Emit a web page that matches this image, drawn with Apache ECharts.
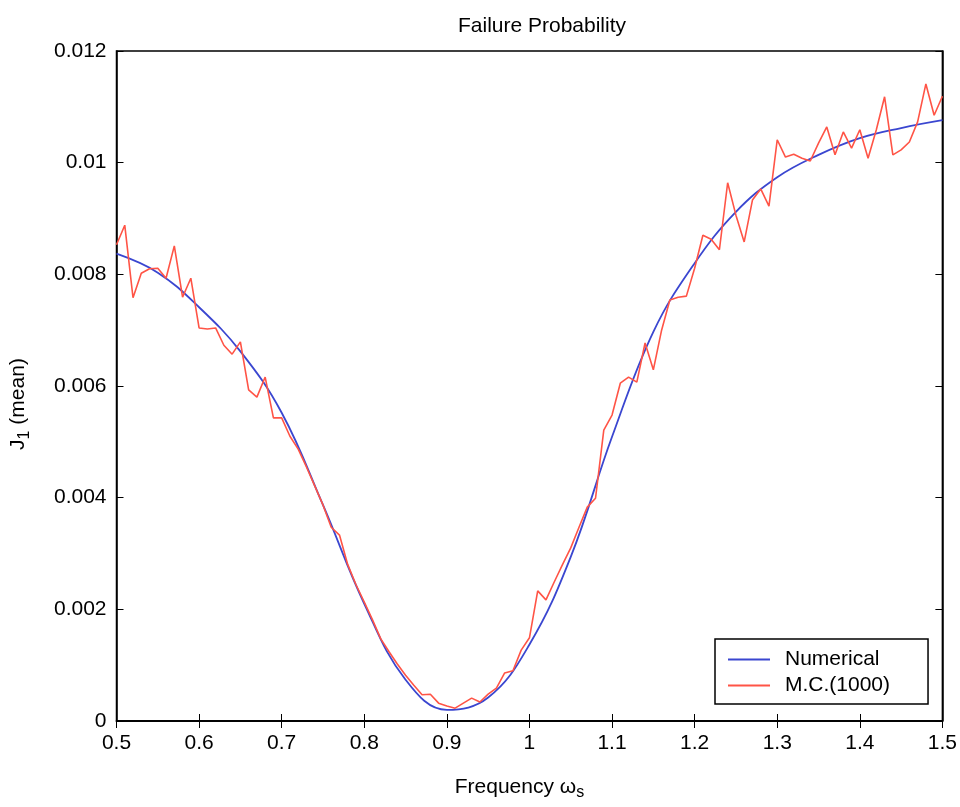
<!DOCTYPE html>
<html>
<head>
<meta charset="utf-8">
<title>Failure Probability</title>
<script src="https://cdn.jsdelivr.net/npm/echarts@6/dist/echarts.min.js"></script>
<style>
  html, body { margin: 0; padding: 0; background: #fff; }
  #chart { width: 960px; height: 807px; }
</style>
</head>
<body>
<div id="chart"></div>
<script>
// numerical solution, sampled every 0.05
const numX = [0.5, 0.55, 0.6, 0.65, 0.7, 0.75, 0.8, 0.85, 0.9, 0.95, 1.0,
  1.05, 1.1, 1.15, 1.2, 1.25, 1.3, 1.35, 1.4, 1.45, 1.5];
const numY = [0.00837, 0.00803, 0.00741, 0.00662, 0.00552, 0.00387, 0.0021, 0.00074, 0.0002, 0.00042, 0.00137,
  0.00294, 0.00509, 0.00697, 0.0082, 0.00912, 0.00974, 0.01014, 0.01044, 0.01062, 0.01076];

// Monte Carlo (1000 samples), one point per 0.01 from 0.5 to 1.5
const mcStart = 0.5;
const mcStep = 0.01;
const mcY = [
  0.00853, 0.00888, 0.00758, 0.00802, 0.0081, 0.00811, 0.00793, 0.00851, 0.00759, 0.00793,
  0.00704, 0.00702, 0.00704, 0.00673, 0.00657, 0.00679, 0.00593, 0.0058, 0.00616, 0.00543,
  0.00543, 0.0051, 0.00487, 0.00455, 0.00421, 0.00387, 0.00347, 0.00333, 0.0028, 0.00244,
  0.00213, 0.00181, 0.00147, 0.00124, 0.00102, 0.00082, 0.00064, 0.00047, 0.00048, 0.00032,
  0.00027, 0.00023, 0.00032, 0.00041, 0.00034, 0.00048, 0.00059, 0.00086, 0.0009, 0.00127,
  0.00149, 0.00233, 0.00217, 0.00249, 0.0028, 0.0031, 0.00347, 0.00383, 0.00399, 0.00521,
  0.00548, 0.00605, 0.00616, 0.00607, 0.00677, 0.00629, 0.007, 0.00754, 0.00759, 0.00761,
  0.00811, 0.0087, 0.00863, 0.00844, 0.00964, 0.00906, 0.00858, 0.00933, 0.00953, 0.00922,
  0.01041, 0.0101, 0.01015, 0.01008, 0.01003, 0.01035, 0.01064, 0.01014, 0.01055, 0.01026,
  0.01059, 0.01008, 0.01059, 0.01118, 0.01014, 0.01023, 0.01037, 0.01073, 0.01141, 0.01085,
  0.01119
];

const FONT = "'Liberation Sans', Arial, sans-serif";

const numData = numX.map((x, i) => [x, numY[i]]);
const mcData = mcY.map((y, i) => [+(mcStart + i * mcStep).toFixed(2), y]);

const chart = echarts.init(document.getElementById("chart"));

const tickLabel = { color: "#000", fontFamily: FONT, fontSize: 21 };
const boxLine = { show: true, lineStyle: { color: "#000", width: 1.5 } };
const inTick = { show: true, inside: true, length: 7, lineStyle: { color: "#000" } };

const option = {
  backgroundColor: "#fff",
  animation: false,
  title: {
    text: "Failure Probability",
    left: 537,
    textAlign: "center",
    top: 11,
    textStyle: { color: "#000", fontFamily: FONT, fontSize: 21, fontWeight: "normal" },
  },
  grid: {
    left: 116, right: 17, top: 51, bottom: 86,
    show: true, borderColor: "#000", borderWidth: 1.5, backgroundColor: "#fff",
  },
  legend: {
    left: 715,
    top: 639,
    orient: "vertical",
    backgroundColor: "#fff",
    borderColor: "#000",
    borderWidth: 1.5,
    padding: [10, 38, 8, 13],
    itemGap: 5,
    itemWidth: 42,
    itemHeight: 2,
    icon: "rect",
    textStyle: { color: "#000", fontFamily: FONT, fontSize: 21, padding: [0, 0, 0, 10] },
    data: ["Numerical", "M.C.(1000)"],
  },
  xAxis: [
    {
      type: "value",
      min: 0.5, max: 1.5, interval: 0.1,
      position: "bottom",
      axisLine: boxLine,
      axisTick: inTick,
      splitLine: { show: false },
      axisLabel: { ...tickLabel, margin: 12, formatter: (v) => String(+v.toFixed(1)) },
      name: "Frequency ω{sub|s}",
      nameLocation: "middle",
      nameGap: 52,
      nameTextStyle: {
        color: "#000", fontFamily: FONT, fontSize: 21, padding: [0, 20, 0, 0],
        rich: { sub: { fontFamily: FONT, fontSize: 16, verticalAlign: "bottom", padding: [12, 0, 0, 0] } },
      },
    },
    {
      type: "value",
      min: 0.5, max: 1.5, interval: 0.1,
      position: "top",
      axisLine: boxLine,
      axisTick: inTick,
      axisLabel: { show: false },
      splitLine: { show: false },
    },
  ],
  yAxis: [
    {
      type: "value",
      min: 0, max: 0.012, interval: 0.002,
      position: "left",
      axisLine: boxLine,
      axisTick: inTick,
      splitLine: { show: false },
      axisLabel: { ...tickLabel, margin: 10, formatter: (v) => String(+v.toFixed(3)) },
      name: "J{sub|1} (mean)",
      nameLocation: "middle",
      nameGap: 84,
      nameTextStyle: {
        color: "#000", fontFamily: FONT, fontSize: 21, padding: [0, 36, 0, 0],
        rich: { sub: { fontFamily: FONT, fontSize: 16, verticalAlign: "bottom", padding: [12, 0, 0, 0] } },
      },
    },
    {
      type: "value",
      min: 0, max: 0.012, interval: 0.002,
      position: "right",
      axisLine: boxLine,
      axisTick: inTick,
      axisLabel: { show: false },
      splitLine: { show: false },
    },
  ],
  series: [
    {
      name: "Numerical",
      type: "line",
      data: numData,
      smooth: 0.4,
      symbol: "none",
      lineStyle: { color: "#3a46d0", width: 1.8 },
      itemStyle: { color: "#3a46d0" },
      z: 3,
    },
    {
      name: "M.C.(1000)",
      type: "line",
      data: mcData,
      symbol: "none",
      lineStyle: { color: "#ff5446", width: 1.6 },
      itemStyle: { color: "#ff5446" },
      z: 4,
    },
  ],
};

chart.setOption(option);
</script>
</body>
</html>
